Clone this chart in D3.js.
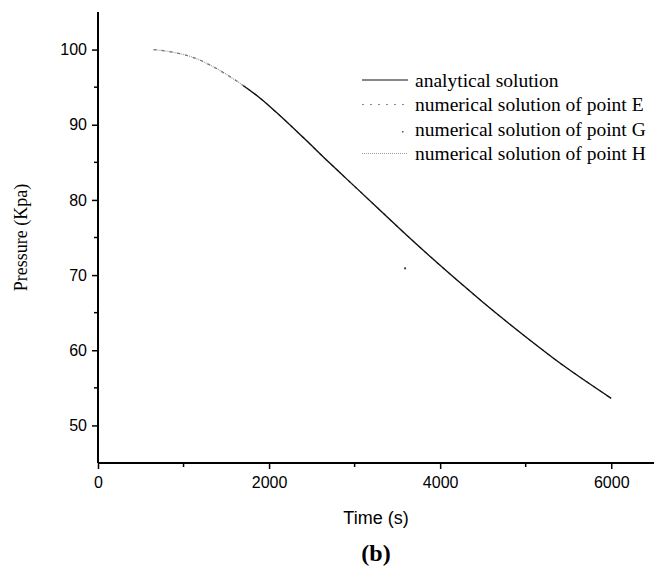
<!DOCTYPE html>
<html>
<head>
<meta charset="utf-8">
<script src="https://d3js.org/d3.v7.min.js"></script>
<style>
  body { margin: 0; background: #fff; }
</style>
</head>
<body>
<div id="chart"></div>
<script>
// values
var times      = [650, 900, 1100, 1300, 1500, 1700, 1900, 2100, 2400, 2700, 3000, 3300, 3600, 3900, 4200, 4500, 4800, 5100, 5400, 5700, 6000];
var numericalE = [100.0, 99.6, 99.0, 98.0, 96.7, 95.2, 93.5, 91.5, 88.3, 85.0, 81.8, 78.6, 75.4, 72.3, 69.3, 66.4, 63.6, 60.9, 58.3, 55.9, 53.6];
var numericalH = [100.0, 99.6, 99.0, 98.0, 96.7, 95.2, 93.5, 91.5, 88.3, 85.0, 81.8, 78.6, 75.4, 72.3, 69.3, 66.4, 63.6, 60.9, 58.3, 55.9, 53.6];
var analyticalTime = [1700, 1900, 2100, 2400, 2700, 3000, 3300, 3600, 3900, 4200, 4500, 4800, 5100, 5400, 5700, 6000];
var analytical     = [95.2, 93.5, 91.5, 88.3, 85.0, 81.8, 78.6, 75.4, 72.3, 69.3, 66.4, 63.6, 60.9, 58.3, 55.9, 53.6];
var pointGTime = [3590];
var pointG     = [70.9];

var xTicks = [0, 2000, 4000, 6000];
var xMinor = [1000, 3000, 5000];
var yTicks = [50, 60, 70, 80, 90, 100];
var yMinor = [55, 65, 75, 85, 95];

var legendLabels = ["analytical solution", "numerical solution of point E",
                    "numerical solution of point G", "numerical solution of point H"];

// set the dimensions and margins of the graph
var W = 660, H = 571;
var pLeft = 98, pRight = 654, pTop = 12, pBottom = 463;

var svg = d3.select("#chart")
  .append("svg")
    .attr("width", W)
    .attr("height", H);

var x = d3.scaleLinear().domain([0, 6500]).range([pLeft, pRight]);
var y = d3.scaleLinear().domain([45, 105]).range([pBottom, pTop]);

// axes
var xAxis = svg.append("g")
    .attr("transform", "translate(0," + pBottom + ")")
    .call(d3.axisBottom(x).tickValues(xTicks).tickSize(6).tickSizeOuter(0).tickFormat(d3.format("d")));
xAxis.select(".domain").attr("stroke-width", 2).attr("d", "M" + pLeft + ",0H" + pRight);
xAxis.selectAll(".tick line").attr("stroke-width", 1.5);
xAxis.selectAll("text")
    .attr("dy", "1.0em")
    .style("font-family", "Liberation Sans, Arial, sans-serif")
    .style("font-size", "16px")
    .attr("fill", "#000");

svg.append("g")
    .attr("transform", "translate(0," + pBottom + ")")
  .selectAll("line")
  .data(xMinor)
  .enter().append("line")
    .attr("x1", function(d) { return x(d); })
    .attr("x2", function(d) { return x(d); })
    .attr("y1", 0).attr("y2", 4)
    .attr("stroke", "#000").attr("stroke-width", 1.5);

var yAxis = svg.append("g")
    .attr("transform", "translate(" + pLeft + ",0)")
    .call(d3.axisLeft(y).tickValues(yTicks).tickSize(6).tickSizeOuter(0));
yAxis.select(".domain").attr("stroke-width", 2).attr("d", "M0," + pBottom + "V" + pTop);
yAxis.selectAll(".tick line").attr("stroke-width", 1.5);
yAxis.selectAll("text")
    .attr("x", -11)
    .style("font-family", "Liberation Sans, Arial, sans-serif")
    .style("font-size", "16px")
    .attr("fill", "#000");

svg.append("g")
    .attr("transform", "translate(" + pLeft + ",0)")
  .selectAll("line")
  .data(yMinor)
  .enter().append("line")
    .attr("x1", 0).attr("x2", -4)
    .attr("y1", function(d) { return y(d); })
    .attr("y2", function(d) { return y(d); })
    .attr("stroke", "#000").attr("stroke-width", 1.5);

// curves
var line = d3.line()
    .x(function(d) { return x(d[0]); })
    .y(function(d) { return y(d[1]); })
    .curve(d3.curveMonotoneX);

svg.append("path")
    .datum(d3.zip(times, numericalH))
    .attr("d", line)
    .attr("fill", "none")
    .attr("stroke", "#9a9a9a")
    .attr("stroke-width", 1.2)
    .attr("stroke-dasharray", "1,1");

svg.append("path")
    .datum(d3.zip(times, numericalE))
    .attr("d", line)
    .attr("fill", "none")
    .attr("stroke", "#777")
    .attr("stroke-width", 1.2)
    .attr("stroke-dasharray", "3,5");

svg.append("path")
    .datum(d3.zip(analyticalTime, analytical))
    .attr("d", line)
    .attr("fill", "none")
    .attr("stroke", "#111")
    .attr("stroke-width", 1.3);

svg.selectAll(".ptG")
    .data(d3.zip(pointGTime, pointG))
    .enter().append("rect")
    .attr("class", "ptG")
    .attr("x", function(d) { return x(d[0]) - 1; })
    .attr("y", function(d) { return y(d[1]) - 1; })
    .attr("width", 2).attr("height", 2)
    .attr("fill", "#444");

// legend
var lg = svg.append("g").attr("transform", "translate(362,80)");
var rowH = 24.5;
legendLabels.forEach(function(lab, i) {
    var yy = i * rowH;
    if (i == 0) {
        lg.append("line").attr("x1", 0).attr("x2", 46).attr("y1", yy).attr("y2", yy)
          .attr("stroke", "#111").attr("stroke-width", 1.2);
    } else if (i == 1) {
        lg.append("line").attr("x1", 0).attr("x2", 46).attr("y1", yy).attr("y2", yy)
          .attr("stroke", "#888").attr("stroke-width", 1.2).attr("stroke-dasharray", "2,6");
    } else if (i == 2) {
        lg.append("rect").attr("x", 40).attr("y", yy + 2).attr("width", 1.5).attr("height", 1.5)
          .attr("fill", "#555");
    } else {
        lg.append("line").attr("x1", 0).attr("x2", 46).attr("y1", yy).attr("y2", yy)
          .attr("stroke", "#999").attr("stroke-width", 1.2).attr("stroke-dasharray", "1,1");
    }
    lg.append("text")
      .attr("x", 53)
      .attr("y", yy)
      .attr("dy", "0.35em")
      .style("font-family", "Liberation Serif, Times New Roman, serif")
      .style("font-size", "19.5px")
      .text(lab);
});

// axis titles
svg.append("text")
    .attr("x", (pLeft + pRight) / 2)
    .attr("y", 524)
    .attr("text-anchor", "middle")
    .style("font-family", "Liberation Sans, Arial, sans-serif")
    .style("font-size", "18px")
    .text("Time (s)");

svg.append("text")
    .attr("transform", "translate(27," + ((pTop + pBottom) / 2) + ") rotate(-90)")
    .attr("text-anchor", "middle")
    .style("font-family", "Liberation Serif, Times New Roman, serif")
    .style("font-size", "18px")
    .text("Pressure (Kpa)");

svg.append("text")
    .attr("x", (pLeft + pRight) / 2)
    .attr("y", 561)
    .attr("text-anchor", "middle")
    .style("font-family", "Liberation Serif, Times New Roman, serif")
    .style("font-size", "24px")
    .style("font-weight", "bold")
    .text("(b)");
</script>
</body>
</html>
